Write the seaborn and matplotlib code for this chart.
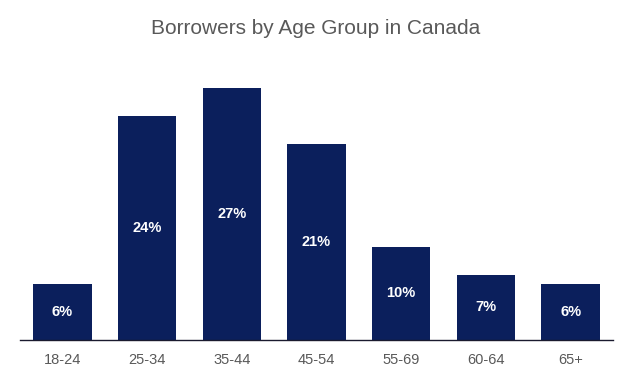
import pandas as pd
import seaborn as sns
import matplotlib.pyplot as plt

age_groups = ['18-24', '25-34', '35-44', '45-54', '55-69', '60-64', '65+']
shares = [6, 24, 27, 21, 10, 7, 6]

df = pd.DataFrame({'age': age_groups, 'share': shares})

sns.set_style('white')
plt.rcParams['font.family'] = ['Liberation Sans', 'DejaVu Sans']

fig = plt.figure(figsize=(6.31, 3.79), dpi=100)
ax = fig.add_axes([20 / 631, 39 / 379, 593 / 631, 280 / 379])

sns.barplot(data=df, x='age', y='share', color='#0b1f5c', saturation=1,
            width=0.69, linewidth=0, ax=ax)

# percentage labels in the middle of each bar
for i, v in enumerate(shares):
    ax.text(i, v / 2, f'{v}%', ha='center', va='center', color='white',
            fontsize=10.5, fontweight='bold')

ax.set_ylim(0, 30)
ax.set_xlim(-0.5, len(age_groups) - 0.5)
ax.set_yticks([])
ax.set_xlabel('')
ax.set_ylabel('')
ax.tick_params(axis='x', length=0, labelsize=10.5, labelcolor='#595959', pad=9)
for side in ['top', 'left', 'right']:
    ax.spines[side].set_visible(False)
ax.spines['bottom'].set_color('#1a1a2e')
ax.spines['bottom'].set_linewidth(1)

fig.text(316 / 631, 1 - 28 / 379, 'Borrowers by Age Group in Canada',
         ha='center', va='center', fontsize=15, color='#595959')

fig.savefig('out.png', dpi=100)
